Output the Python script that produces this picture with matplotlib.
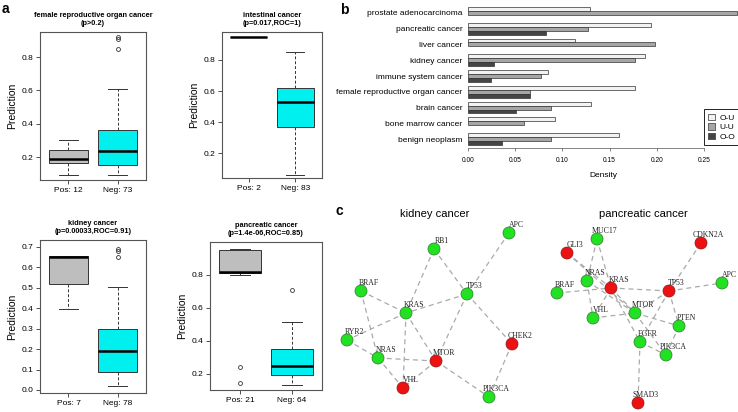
import matplotlib
matplotlib.use('Agg')
import numpy as np
import matplotlib.pyplot as plt

plt.rcParams['font.family'] = ['Liberation Sans', 'DejaVu Sans']

W, H = 738, 412

# ---- panel a: boxplot summaries (pos, neg) ----
box_titles = ['female reproductive organ cancer\n(p>0.2)',
              'intestinal cancer\n(p=0.017,ROC=1)',
              'kidney cancer\n(p=0.00033,ROC=0.91)',
              'pancreatic cancer\n(p=1.4e-06,ROC=0.85)']
box_xlabels = [['Pos: 12', 'Neg: 73'], ['Pos: 2', 'Neg: 83'],
               ['Pos: 7', 'Neg: 78'], ['Pos: 21', 'Neg: 64']]
box_q1 = [[0.165, 0.15], [0.945, 0.37], [0.52, 0.09], [0.815, 0.195]]
box_med = [[0.19, 0.235], [0.945, 0.53], [0.65, 0.19], [0.82, 0.25]]
box_q3 = [[0.24, 0.36], [0.945, 0.62], [0.655, 0.30], [0.95, 0.35]]
box_lo = [[0.09, 0.095], [0.945, 0.06], [0.395, 0.02], [0.80, 0.135]]
box_hi = [[0.30, 0.61], [0.945, 0.85], [0.655, 0.505], [0.96, 0.515]]
box_fliers = [[[], [0.85, 0.91, 0.92]], [[], []],
              [[], [0.65, 0.68, 0.69]], [[0.145, 0.24], [0.71]]]
box_ylim = [(0.062, 0.95), (0.04, 0.98), (-0.015, 0.734), (0.103, 1.0)]
box_ystep = [0.2, 0.2, 0.1, 0.2]

# ---- panel b: density bars ----
b_categories = ['prostate adenocarcinoma', 'pancreatic cancer', 'liver cancer',
                'kidney cancer', 'immune system cancer',
                'female reproductive organ cancer', 'brain cancer',
                'bone marrow cancer', 'benign neoplasm']
b_ou = [0.129, 0.194, 0.113, 0.188, 0.085, 0.177, 0.130, 0.092, 0.160]
b_uu = [0.285, 0.127, 0.198, 0.177, 0.077, 0.066, 0.088, 0.059, 0.088]
b_oo = [0.0, 0.083, 0.0, 0.028, 0.024, 0.066, 0.051, 0.0, 0.036]
b_series = ['O-U', 'U-U', 'O-O']

# ---- panel c: networks (layout coords, red = True) ----
kid_nodes = {'APC': (509, 233, False), 'RB1': (434, 249, False),
             'BRAF': (361, 291, False), 'TP53': (467, 294, False),
             'KRAS': (406, 313, False), 'RYR2': (347, 340, False),
             'NRAS': (378, 358, False), 'MTOR': (436, 361, True),
             'CHEK2': (512, 344, True), 'VHL': (403, 388, True),
             'PIK3CA': (489, 397, False)}
kid_edges = [('APC', 'TP53'), ('RB1', 'TP53'), ('RB1', 'KRAS'), ('TP53', 'KRAS'),
             ('TP53', 'MTOR'), ('TP53', 'CHEK2'), ('BRAF', 'KRAS'), ('BRAF', 'NRAS'),
             ('KRAS', 'RYR2'), ('KRAS', 'MTOR'), ('KRAS', 'VHL'), ('RYR2', 'NRAS'),
             ('NRAS', 'MTOR'), ('NRAS', 'VHL'), ('MTOR', 'VHL'), ('MTOR', 'PIK3CA'),
             ('CHEK2', 'PIK3CA')]
pan_nodes = {'MUC17': (597, 239, False), 'CDKN2A': (701, 243, True),
             'GLI3': (567, 253, True), 'NRAS': (587, 281, False),
             'KRAS': (611, 288, True), 'BRAF': (557, 293, False),
             'TP53': (669, 291, True), 'APC': (722, 283, False),
             'MTOR': (635, 313, False), 'VHL': (593, 318, False),
             'PTEN': (679, 326, False), 'EGFR': (640, 342, False),
             'PIK3CA': (666, 355, False), 'SMAD3': (638, 403, True)}
pan_edges = [('MUC17', 'NRAS'), ('MUC17', 'KRAS'), ('GLI3', 'KRAS'), ('GLI3', 'MTOR'),
             ('BRAF', 'KRAS'), ('KRAS', 'TP53'), ('TP53', 'APC'), ('TP53', 'CDKN2A'),
             ('TP53', 'MTOR'), ('TP53', 'EGFR'), ('TP53', 'PTEN'), ('NRAS', 'VHL'),
             ('NRAS', 'MTOR'), ('KRAS', 'VHL'), ('KRAS', 'MTOR'), ('KRAS', 'EGFR'),
             ('VHL', 'MTOR'), ('MTOR', 'PTEN'), ('MTOR', 'PIK3CA'), ('PTEN', 'PIK3CA'),
             ('EGFR', 'PIK3CA'), ('EGFR', 'SMAD3')]


def px_axes(fig, x0, y0, x1, y1):
    return fig.add_axes([x0 / W, 1 - y1 / H, (x1 - x0) / W, (y1 - y0) / H])


fig = plt.figure(figsize=(W / 100, H / 100), dpi=100)

# panel a
box_rects = [(40, 32, 146, 180), (222, 32, 322, 178), (40, 240, 146, 393), (210, 242, 322, 390)]
for k, rect in enumerate(box_rects):
    ax = px_axes(fig, *rect)
    stats = []
    for g in range(2):
        stats.append(dict(q1=box_q1[k][g], med=box_med[k][g], q3=box_q3[k][g],
                          whislo=box_lo[k][g], whishi=box_hi[k][g],
                          fliers=box_fliers[k][g]))
    bp = ax.bxp(stats, positions=[1, 2], widths=0.8, patch_artist=True, capwidths=0.4,
                boxprops=dict(edgecolor='#333333', linewidth=0.7),
                medianprops=dict(color='black', linewidth=1.8),
                whiskerprops=dict(color='#333333', linewidth=0.7, linestyle=(0, (3, 2))),
                capprops=dict(color='#333333', linewidth=0.7),
                flierprops=dict(marker='o', markersize=2.8, markerfacecolor='none',
                                markeredgecolor='#333333', markeredgewidth=0.6))
    bp['boxes'][0].set_facecolor('#bebebe')
    bp['boxes'][1].set_facecolor('#00f0f0')
    ax.set_xlim(0.42, 2.58)
    ax.set_ylim(*box_ylim[k])
    step = box_ystep[k]
    lo = max(np.ceil(box_ylim[k][0] / step - 1e-6) * step, 0.0)
    ticks = np.round(np.arange(lo, box_ylim[k][1], step), 2)
    ax.set_yticks(ticks)
    ax.set_yticklabels(['%.1f' % abs(t) for t in ticks])
    ax.set_xticks([1, 2])
    ax.set_xticklabels(box_xlabels[k])
    ax.tick_params(labelsize=6, length=3, width=0.6, color='#333333', pad=2)
    for s in ax.spines.values():
        s.set_color('#555555')
        s.set_linewidth(0.8)
    ax.set_title(box_titles[k], fontsize=5.3, fontweight='bold', pad=5, linespacing=1.3)
    ax.set_ylabel('Prediction', fontsize=7.5, labelpad=3)

# panel b
axb = px_axes(fig, 468, 5, 738, 148)
groups = np.arange(len(b_categories)) * 4
colors = ['#f2f2f2', '#a6a6a6', '#454545']
for j, vals in enumerate([b_ou, b_uu, b_oo]):
    vals = np.array(vals)
    ys = groups + 1.5 + j
    keep = vals > 0
    axb.barh(ys[keep], vals[keep], height=1.0, color=colors[j], edgecolor='#333333',
             linewidth=0.5, label=b_series[j])
axb.set_xlim(0, 0.286)
axb.set_ylim(36.76, 0.49)
axb.set_yticks(groups + 2.5)
axb.set_yticklabels(b_categories)
axb.tick_params(axis='y', length=0, labelsize=6, pad=4)
axb.set_xticks(np.arange(0, 0.26, 0.05))
axb.xaxis.set_major_formatter(matplotlib.ticker.FormatStrFormatter('%.2f'))
axb.tick_params(axis='x', labelsize=4.8, length=2.5, width=0.5, pad=4, color='#555555')
for s in ['top', 'right', 'left']:
    axb.spines[s].set_visible(False)
axb.spines['bottom'].set_bounds(0, 0.25)
axb.spines['bottom'].set_linewidth(0.5)
axb.spines['bottom'].set_color('#555555')
axb.set_xlabel('Density', fontsize=6, labelpad=6)
leg = axb.legend(loc='lower right', bbox_to_anchor=(1.02, -0.01), fontsize=6,
                 fancybox=False, edgecolor='black', framealpha=1, handlelength=0.8,
                 handleheight=0.8, borderpad=0.5, labelspacing=0.2, handletextpad=0.5)
leg.get_frame().set_linewidth(0.6)

# panel c
axc = px_axes(fig, 340, 200, 738, 412)
axc.set_xlim(340, 738)
axc.set_ylim(412, 200)
axc.axis('off')
for nodes, edges, title, tx in [(kid_nodes, kid_edges, 'kidney cancer', 435),
                                (pan_nodes, pan_edges, 'pancreatic cancer', 643)]:
    for a, b in edges:
        axc.plot([nodes[a][0], nodes[b][0]], [nodes[a][1], nodes[b][1]],
                 color='#aaaaaa', lw=0.9, ls=(0, (4, 3)), zorder=1)
    xs = [v[0] for v in nodes.values()]
    ys = [v[1] for v in nodes.values()]
    cs = ['#ee1111' if v[2] else '#22e022' for v in nodes.values()]
    ecs = ['#8a1515' if v[2] else '#2a7a2a' for v in nodes.values()]
    axc.scatter(xs, ys, s=75, c=cs, edgecolors=ecs, linewidths=0.5, zorder=2)
    for name, v in nodes.items():
        axc.annotate(name, (v[0], v[1]), xytext=(5.5, 6), textcoords='offset points',
                     ha='center', va='center', fontsize=5.6, color='#222222',
                     family=['Liberation Serif', 'DejaVu Serif'], zorder=3)
    axc.text(tx, 214, title, ha='center', va='center', fontsize=8)

# panel letters
fig.text(2 / W, 1 - 2 / H, 'a', fontsize=10, fontweight='bold', va='top')
fig.text(340 / W, 1 - 3 / H, 'b', fontsize=10, fontweight='bold', va='top')
fig.text(336 / W, 1 - 204 / H, 'c', fontsize=10, fontweight='bold', va='top')

fig.savefig('out.png', dpi=100)
